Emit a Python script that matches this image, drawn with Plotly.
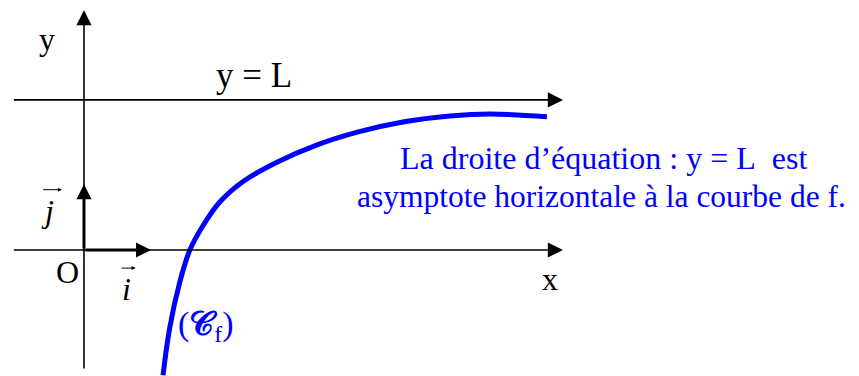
import plotly.graph_objects as go

# curve of f (units: 1 = length of vector i)
curve_x = [1.18, 1.28, 1.43, 1.58, 1.78, 2.03, 2.37, 2.88, 3.48, 4.08, 4.76, 5.46, 6.06, 6.91]
curve_y = [-1.87, -1.16, -0.48, 0.0, 0.37, 0.72, 1.02, 1.31, 1.57, 1.76, 1.91, 2.0, 2.03, 1.99]

L = 2.24
x_axis_span = [-1.07, 7.15]
y_axis_span = [-1.79, 3.58]
unit_i = 1.0
unit_j = 0.98

BLUE = "#0000FF"
SERIF = "Liberation Serif, Times New Roman, serif"

fig = go.Figure()
fig.add_trace(go.Scatter(
    x=curve_x, y=curve_y, mode="lines",
    line=dict(color=BLUE, width=5, shape="spline"),
    hoverinfo="skip",
))


def arrow(x0, y0, x1, y1, width, size):
    fig.add_annotation(
        x=x1, y=y1, ax=x0, ay=y0, xref="x", yref="y", axref="x", ayref="y",
        text="", showarrow=True, arrowhead=2, arrowwidth=width,
        arrowsize=size, arrowcolor="black", standoff=0,
    )


# axes and asymptote
arrow(x_axis_span[0], 0, x_axis_span[1], 0, 1.6, 1.9)
arrow(0, y_axis_span[0], 0, y_axis_span[1], 1.6, 1.9)
arrow(x_axis_span[0], L, x_axis_span[1], L, 1.6, 1.9)
# unit vectors
arrow(0, 0, unit_i, 0, 3, 1.0)
arrow(0, 0, 0, unit_j, 3, 1.0)
# little arrows over i and j
arrow(0.54, -0.27, 0.77, -0.27, 1, 0.8)
arrow(-0.63, 0.90, -0.33, 0.90, 1, 0.8)


def label(x, y, text, size=32, color="black"):
    fig.add_annotation(
        x=x, y=y, xref="x", yref="y", text=text, showarrow=False,
        font=dict(family=SERIF, size=size, color=color),
    )


label(-0.55, 3.15, "y")
label(2.54, 2.6, "y = L", size=35)
label(-0.25, -0.33, "O")
label(6.95, -0.43, "x")
label(0.64, -0.58, "<i>i</i>")
label(-0.54, 0.58, "<i>j</i>")
label(1.82, -1.13, "(<b>𝒞</b><sub>f</sub>)", size=34, color=BLUE)
label(7.75, 1.38, "La droite d’équation : y = L\u00a0 est", color=BLUE)
label(7.73, 0.8, "asymptote horizontale à la courbe de f.", size=31.5, color=BLUE)

fig.update_layout(
    width=859, height=376,
    margin=dict(l=0, r=0, t=0, b=0),
    paper_bgcolor="white", plot_bgcolor="white",
    showlegend=False,
    xaxis=dict(range=[-1.134, 11.687], visible=False),
    yaxis=dict(range=[-2.0, 3.612], visible=False),
)
fig.write_html("out.html")
